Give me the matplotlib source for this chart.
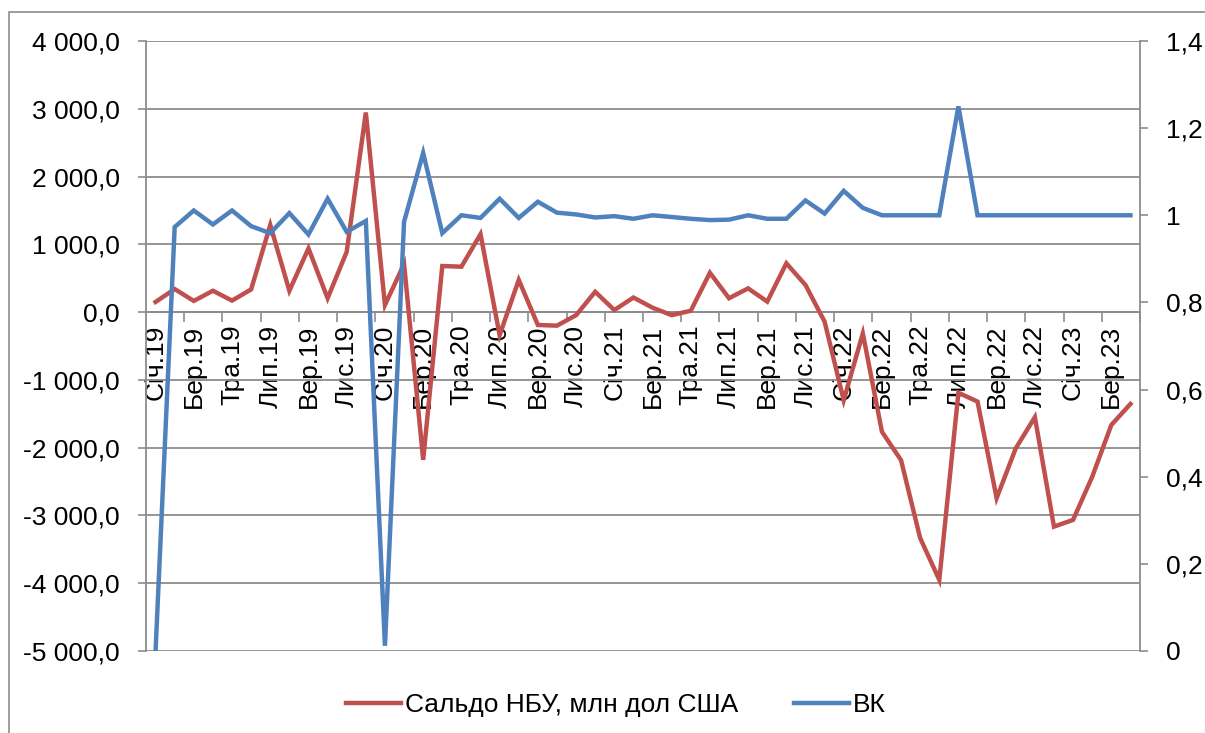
import numpy as np
import matplotlib.pyplot as plt
from matplotlib.patches import Rectangle
from matplotlib.ticker import FuncFormatter, FixedLocator

plt.rcParams['font.family'] = ['Liberation Sans', 'DejaVu Sans']

# monthly data, Jan 2019 .. Apr 2023
saldo_nbu = [150, 340, 165, 315, 170, 335, 1285, 315, 940, 205, 890, 2945,
             105, 710, -2180, 680, 670, 1150, -340, 475, -190, -200, -45, 300,
             30, 215, 65, -45, 20, 580, 205, 350, 155, 720, 400, -140,
             -1300, -315, -1765, -2185, -3335, -3950, -1190, -1320, -2745, -2010, -1550, -3165,
             -3065, -2430, -1665, -1355]
vk = [0, 0.973, 1.011, 0.979, 1.011, 0.975, 0.959, 1.005, 0.956, 1.038, 0.962, 0.987,
      0.012, 0.985, 1.143, 0.959, 1.0, 0.994, 1.038, 0.994, 1.031, 1.006, 1.002, 0.995,
      0.998, 0.992, 1.0, 0.996, 0.992, 0.989, 0.99, 1.0, 0.992, 0.992, 1.034, 1.004,
      1.056, 1.017, 1.0, 1.0, 1.0, 1.0, 1.25, 1.0, 1.0, 1.0, 1.0, 1.0,
      1.0, 1.0, 1.0, 1.0]
tick_labels = ['Січ.19', 'Бер.19', 'Тра.19', 'Лип.19', 'Вер.19', 'Лис.19',
               'Січ.20', 'Бер.20', 'Тра.20', 'Лип.20', 'Вер.20', 'Лис.20',
               'Січ.21', 'Бер.21', 'Тра.21', 'Лип.21', 'Вер.21', 'Лис.21',
               'Січ.22', 'Бер.22', 'Тра.22', 'Лип.22', 'Вер.22', 'Лис.22',
               'Січ.23', 'Бер.23']

RED = '#C0504D'
BLUE = '#4F81BD'
GRID = '#8C8C8C'
FS = 19

x = np.arange(len(saldo_nbu))

fig = plt.figure(figsize=(12.05, 7.33), dpi=100)
ax = fig.add_axes([146 / 1205, 1 - 651 / 733, (1140 - 146) / 1205, (651 - 41) / 733])
ax2 = ax.twinx()

# outer chart border (partly cut off in the original)
fig.patches.append(Rectangle((9 / 1205, -0.05), 1.2, 1 - 12 / 733 + 0.05,
                             transform=fig.transFigure, fill=False,
                             edgecolor=GRID, linewidth=1.2, clip_on=False))

l1, = ax.plot(x, saldo_nbu, color=RED, lw=3.2, solid_joinstyle='miter',
              label='Сальдо НБУ, млн дол США', zorder=3)
l2, = ax2.plot(x, vk, color=BLUE, lw=3.2, solid_joinstyle='miter', label='ВК')

# left axis
ax.set_xlim(-0.5, len(x) - 0.5)
ax.set_ylim(-5000, 4000)
ax.set_yticks(np.arange(-5000, 4001, 1000))
ax.yaxis.set_major_formatter(FuncFormatter(
    lambda v, p: f'{v:,.1f}'.replace(',', ' ').replace('.', ',')))
ax.grid(axis='y', color=GRID, lw=1.3)
ax.set_axisbelow(True)
ax.tick_params(axis='y', length=6, width=1.2, color=GRID, pad=13, labelsize=FS)

# category axis crossing at zero
ax.spines['bottom'].set_position(('data', 0))
ax.spines['bottom'].set_color(GRID)
ax.spines['bottom'].set_linewidth(1.3)
ax.spines['top'].set_visible(False)
ax.spines['right'].set_visible(False)
ax.spines['left'].set_color(GRID)
ax.spines['left'].set_linewidth(1.3)
ax.set_xticks(x[::2])
ax.set_xticklabels(tick_labels, rotation=90, fontsize=FS, va='top')
ax.xaxis.set_minor_locator(FixedLocator(x[1::2] + 0.5))
ax.tick_params(axis='x', which='major', length=0, pad=9)
ax.tick_params(axis='x', which='minor', length=7, width=1.2, color=GRID)

# right axis
ax2.set_ylim(0, 1.4)
ax2.set_yticks(np.arange(0, 1.41, 0.2))
ax2.yaxis.set_major_formatter(FuncFormatter(
    lambda v, p: f'{v:.1f}'.rstrip('0').rstrip('.').replace('.', ',') if v else '0'))
ax2.tick_params(axis='y', length=6, width=1.2, color=GRID, pad=13, labelsize=FS)
for s in ['top', 'left', 'bottom']:
    ax2.spines[s].set_visible(False)
ax2.spines['right'].set_color(GRID)
ax2.spines['right'].set_linewidth(1.3)

fig.legend(handles=[l1, l2], loc='center', bbox_to_anchor=(616 / 1205, 1 - 705 / 733),
           ncol=2, frameon=False, fontsize=FS, handlelength=2.1, handletextpad=0.15,
           columnspacing=2.1)

fig.savefig('out.png', dpi=100)
